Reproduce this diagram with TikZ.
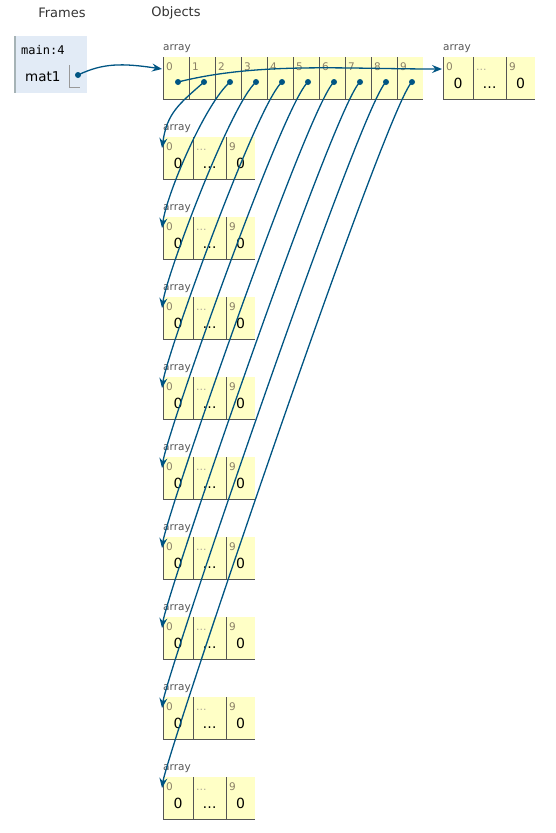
\documentclass[tikz,border=0pt]{standalone}
\usepackage{fontspec}
\setmainfont{DejaVu Sans}
\setmonofont{DejaVu Sans Mono}
\usetikzlibrary{arrows.meta,calc}
\definecolor{ptblue}{HTML}{005583}
\definecolor{ptyellow}{HTML}{FFFFC6}
\definecolor{framebg}{HTML}{E2EBF6}
\definecolor{frameedge}{HTML}{A6B3B6}
\definecolor{cellline}{HTML}{555555}
\definecolor{idxcol}{HTML}{8A8066}
\definecolor{hdrcol}{HTML}{333333}
\begin{document}
\begin{tikzpicture}[x=1pt,y=-1pt,
  hdr/.style={font=\fontsize{13}{15}\selectfont, text=hdrcol, inner sep=0pt},
  arrlabel/.style={font=\fontsize{10.5}{12}\selectfont, text=cellline, inner sep=0pt, anchor=west},
  idx/.style={font=\fontsize{10.5}{12}\selectfont, text=idxcol, inner sep=0pt, anchor=base west},
  val/.style={font=\fontsize{14}{16}\selectfont, text=black, inner sep=0pt, anchor=base},
  arrbox/.style={fill=ptyellow, draw=none, inner sep=0pt, anchor=north west, minimum height=42pt},
  cellsep/.style={draw=cellline, line width=0.9pt},
  ptrdot/.style={circle, fill=ptblue, inner sep=0pt, minimum size=6pt},
  ptarrow/.style={draw=ptblue, line width=1.3pt, -{Stealth[length=10pt,width=8pt,inset=3.5pt]}},
  framebox/.style={fill=framebg, draw=none, inner sep=0pt, minimum width=72pt, minimum height=57pt}]
\useasboundingbox (0,0) rectangle (555,833);

% headers
\node[hdr] (hframes) at (62,13) {Frames};
\node[hdr] (hobjects) at (176,13) {Objects};

% frame
\node[framebox] (frame) at (51,64.5) {};
\draw[frameedge, line width=1.5pt] (frame.north west) -- (frame.south west);
\node[font=\ttfamily\fontsize{12}{14}\selectfont, inner sep=0pt, anchor=west] (fname) at (21,50) {main:4};
\node[font=\fontsize{13.5}{15}\selectfont, inner sep=0pt, anchor=west] (fvar) at (25,77) {mat1};
\draw[gray!80, line width=0.8pt] (69,65) -- (69,87) -- (80,87);
\node[ptrdot] (fdot) at (78,75) {};

% main array
\node[arrlabel] (mainlabel) at (163,49) {array};
\node[arrbox, minimum width=260pt] (main) at (163,57) {};
\foreach \i in {0,...,9} {
  \draw[cellsep] (163+26*\i,57) -- (163+26*\i,99);
  \node[idx] (mi\i) at (166+26*\i,70) {\i};
  \node[ptrdot] (d\i) at (178+26*\i,82) {};
}
\draw[cellsep] (163,99) -- (423,99);

% right array
\node[arrlabel] (rlabel) at (443,49) {array};
\node[arrbox, minimum width=92pt] (rarr) at (443,57) {};
\draw[cellsep] (443,57) -- (443,99);
\draw[cellsep] (473,57) -- (473,99);
\draw[cellsep] (506,57) -- (506,99);
\draw[cellsep] (443,99) -- (535,99);
\node[idx] (ri0) at (446,70) {0};
\node[idx, text=idxcol!70] (ri1) at (476,70) {…};
\node[idx] (ri2) at (509,70) {9};
\node[val] (rv0) at (458,88) {0};
\node[val] (rv1) at (489.5,88) {…};
\node[val] (rv2) at (520.5,88) {0};
\coordinate (r0) at (442,69);
\coordinate (m0) at (162,69);

% sub arrays
\foreach \k in {1,...,9} {
  \pgfmathsetmacro{\rowtop}{57+80*\k}
  \node[arrlabel] (slabel\k) at (163,\rowtop-8) {array};
  \node[arrbox, minimum width=92pt] (sub\k) at (163,\rowtop) {};
  \draw[cellsep] (163,\rowtop) -- (163,\rowtop+42);
  \draw[cellsep] (193,\rowtop) -- (193,\rowtop+42);
  \draw[cellsep] (226,\rowtop) -- (226,\rowtop+42);
  \draw[cellsep] (163,\rowtop+42) -- (255,\rowtop+42);
  \node[idx] (si0\k) at (166,\rowtop+13) {0};
  \node[idx, text=idxcol!70] (si1\k) at (196,\rowtop+13) {…};
  \node[idx] (si2\k) at (229,\rowtop+13) {9};
  \node[val] (sv0\k) at (178,\rowtop+31) {0};
  \node[val] (sv1\k) at (209.5,\rowtop+31) {…};
  \node[val] (sv2\k) at (240.5,\rowtop+31) {0};
  \coordinate (t\k) at (162,\rowtop+11);
}

% connectors
\draw[ptarrow] (fdot.center) .. controls +(25,-12) and +(-40,-6) .. (m0);
\draw[ptarrow] (d0.center) .. controls +(80,-20) and +(-100,0) .. (r0);
\foreach \i in {1,...,9} {
  \draw[ptarrow] (d\i.center) .. controls +(-25,22) and +(5,-35) .. (t\i);
}
\end{tikzpicture}
\end{document}
